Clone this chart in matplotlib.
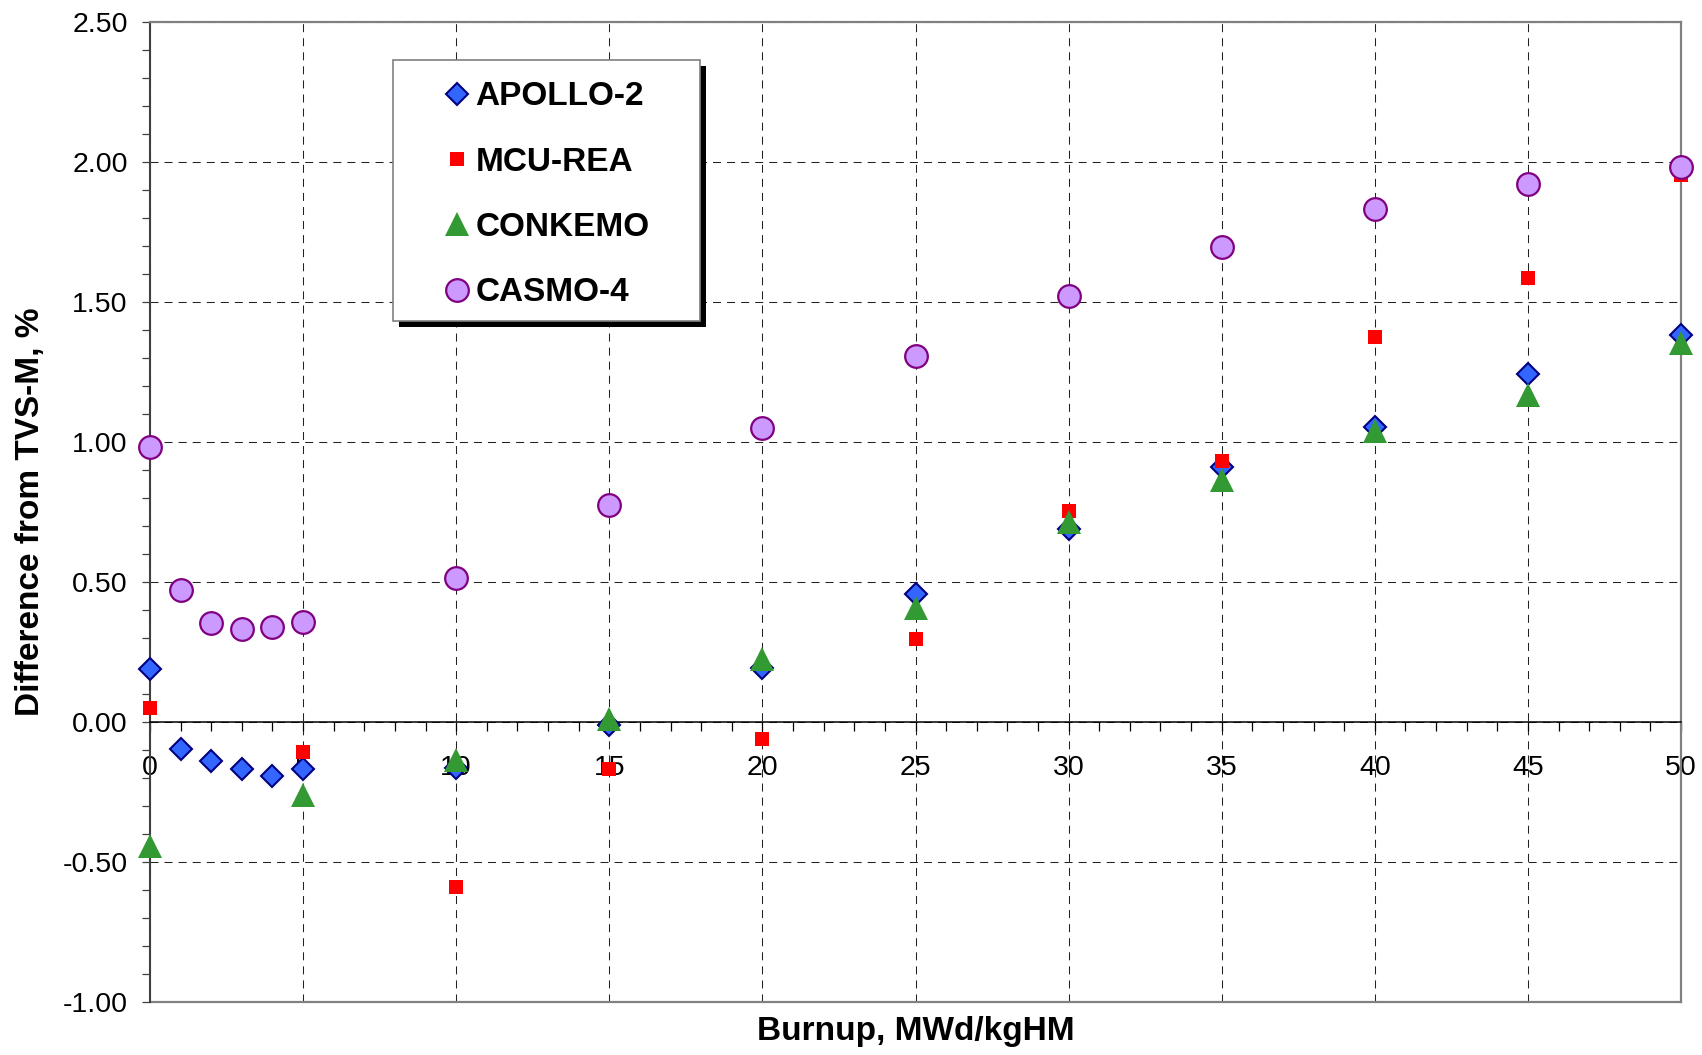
import matplotlib
matplotlib.use('Agg')
import matplotlib.pyplot as plt
from matplotlib.ticker import MultipleLocator, FormatStrFormatter
from matplotlib.patches import Rectangle

plt.rcParams['font.family'] = ['Liberation Sans', 'DejaVu Sans']
plt.rcParams['axes.unicode_minus'] = False

# Burnup points (MWd/kgHM)
burnup_fine = [0, 1, 2, 3, 4, 5, 10, 15, 20, 25, 30, 35, 40, 45, 50]
burnup_coarse = [0, 5, 10, 15, 20, 25, 30, 35, 40, 45, 50]

# Difference from TVS-M, %
apollo = [0.19, -0.096, -0.139, -0.169, -0.193, -0.168, -0.165, -0.01,
          0.194, 0.457, 0.69, 0.911, 1.054, 1.242, 1.381]
mcu = [0.051, -0.106, -0.588, -0.169, -0.06, 0.295, 0.752, 0.931, 1.376, 1.585, 1.955]
conkemo = [-0.442, -0.261, -0.136, 0.012, 0.225, 0.407, 0.715, 0.865, 1.038, 1.168, 1.354]
casmo = [0.984, 0.470, 0.352, 0.333, 0.338, 0.356, 0.516, 0.775, 1.050, 1.306,
         1.523, 1.698, 1.833, 1.922, 1.982]

fig = plt.figure(figsize=(17.02, 10.55), dpi=100)
ax = fig.add_axes([0.0881, 0.0502, 0.8996, 0.9289])

# series, drawn in legend order
l1, = ax.plot(burnup_fine, apollo, 'D', ms=11.2, mfc='#3366FF', mec='#000080', mew=1.5,
              label='APOLLO-2', clip_on=False, zorder=4)
l2, = ax.plot(burnup_coarse, mcu, 's', ms=9.9, mfc='#FF0000', mec='#FF0000', mew=0,
              label='MCU-REA', clip_on=False, zorder=4)
l3, = ax.plot(burnup_coarse, conkemo, '^', ms=17, mfc='#339933', mec='#339933', mew=0,
              label='CONKEMO', clip_on=False, zorder=4)
l4, = ax.plot(burnup_fine, casmo, 'o', ms=16.3, mfc='#CC99FF', mec='#800080', mew=1.6,
              label='CASMO-4', clip_on=False, zorder=4)

ax.set_xlim(0, 50)
ax.set_ylim(-1.0, 2.5)

# axes styling
ax.spines['bottom'].set_position(('data', 0))
ax.spines['bottom'].set_color('black')
ax.spines['bottom'].set_linewidth(1.1)
ax.spines['left'].set_color('#404040')
ax.spines['left'].set_linewidth(1.5)
for s in ('top', 'right'):
    ax.spines[s].set_color('#808080')
    ax.spines[s].set_linewidth(1.6)
ax.plot([0, 1], [0, 0], transform=ax.transAxes, color='#808080', lw=1.6, clip_on=False, zorder=2.5)

ax.xaxis.set_major_locator(MultipleLocator(5))
ax.xaxis.set_minor_locator(MultipleLocator(1))
ax.yaxis.set_major_locator(MultipleLocator(0.5))
ax.yaxis.set_minor_locator(MultipleLocator(0.1))
ax.yaxis.set_major_formatter(FormatStrFormatter('%.2f'))

ax.tick_params(axis='x', which='both', direction='out', length=6.5, width=0.9, color='black',
               labelsize=20.5, pad=17)
ax.tick_params(axis='y', which='both', direction='out', length=6, width=0.9, color='#404040',
               labelsize=20.5, pad=10)

ax.grid(True, which='major', color='#222222', linestyle=(0, (7.7, 5.8)), linewidth=0.75)
ax.set_axisbelow(True)

ax.set_xlabel('Burnup, MWd/kgHM', fontsize=24, fontweight='bold')
ax.set_ylabel('Difference from TVS-M, %', fontsize=24, fontweight='bold')
ax.xaxis.set_label_coords(0.5, -0.0143)
ax.yaxis.set_label_coords(-0.068, 0.5)

# legend box with offset shadow
fx0, fx1, fy0, fy1 = 0.159, 0.359, 0.695, 0.961
ax.add_patch(Rectangle((fx0 + 0.0039, fy0 - 0.0061), fx1 - fx0, fy1 - fy0, transform=ax.transAxes,
                       facecolor='black', edgecolor='none', clip_on=False, zorder=5))
ax.add_patch(Rectangle((fx0, fy0), fx1 - fx0, fy1 - fy0, transform=ax.transAxes,
                       facecolor='white', edgecolor='#808080', lw=1.2, clip_on=False, zorder=5.1))
leg = ax.legend(handles=[l1, l2, l3, l4], loc='upper left', bbox_to_anchor=(0.1914, 0.9394),
                frameon=False, borderpad=0, borderaxespad=0, handlelength=0.84,
                handletextpad=0.14, labelspacing=1.03, prop={'weight': 'bold', 'size': 24})
leg.set_zorder(6)

fig.savefig('out.png', dpi=100)
